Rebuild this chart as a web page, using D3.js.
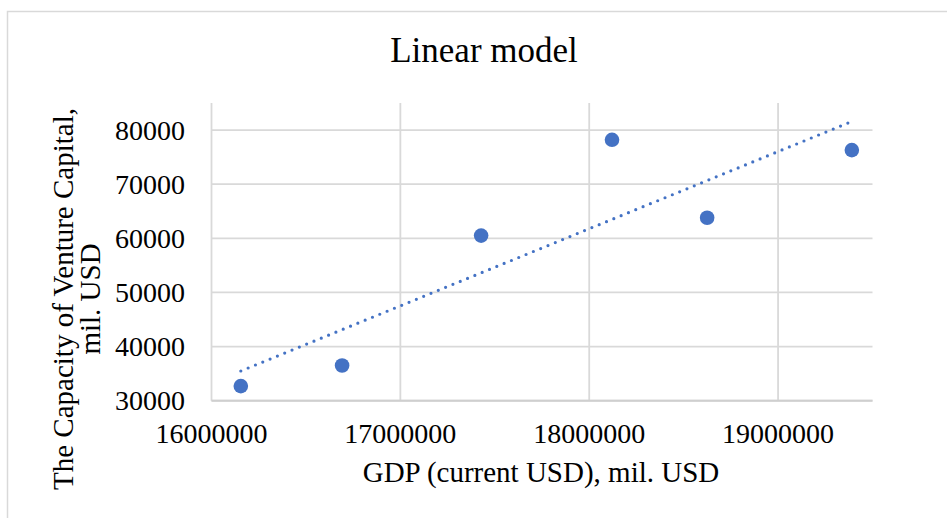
<!DOCTYPE html>
<html>
<head>
<meta charset="utf-8">
<script src="https://cdn.jsdelivr.net/npm/d3@7"></script>
<style>
  body { margin: 0; background: #fff; }
  text { font-family: "Liberation Serif", "Times New Roman", serif; fill: #000; }
</style>
</head>
<body>
<div class="scatter-chart"></div>
<script>
// US GDP vs venture capital capacity, mil. USD
var gdp = [16155255, 16691517, 17427609, 18120714, 18624475, 19390604];
var vcCapacity = [32700, 36500, 60500, 78200, 63800, 76300];
var xTicks = [16000000, 17000000, 18000000, 19000000];
var yTicks = [30000, 40000, 50000, 60000, 70000, 80000];

var w = 947;
var h = 518;
var plotLeft = 211.5, plotRight = 872.5, plotTop = 103, plotBottom = 400.7;

var svg = d3.select(".scatter-chart")
            .append("svg")
            .attr("width", w)
            .attr("height", h);

// chart border
svg.append("rect")
   .attr("x", 7.5).attr("y", 11.5)
   .attr("width", 980).attr("height", 560)
   .attr("fill", "none")
   .attr("stroke", "#d9d9d9")
   .attr("stroke-width", 1.5);

var x = d3.scaleLinear().domain([16000000, 19500000]).range([plotLeft, plotRight]);
var y = d3.scaleLinear().domain([30000, 85000]).range([plotBottom, plotTop]);

// gridlines
svg.append("g")
   .selectAll("line")
   .data(yTicks)
   .enter()
   .append("line")
   .attr("x1", plotLeft).attr("x2", plotRight)
   .attr("y1", function(d) { return y(d); })
   .attr("y2", function(d) { return y(d); })
   .attr("stroke", "#d9d9d9")
   .attr("stroke-width", 1.8);

svg.append("g")
   .selectAll("line")
   .data(xTicks)
   .enter()
   .append("line")
   .attr("y1", plotTop).attr("y2", plotBottom)
   .attr("x1", function(d) { return x(d); })
   .attr("x2", function(d) { return x(d); })
   .attr("stroke", "#d9d9d9")
   .attr("stroke-width", 1.8);

// bottom axis line
svg.append("line")
   .attr("x1", plotLeft).attr("x2", plotRight)
   .attr("y1", plotBottom).attr("y2", plotBottom)
   .attr("stroke", "#cfcfcf")
   .attr("stroke-width", 2);

// tick labels
svg.append("g")
   .selectAll("text")
   .data(xTicks)
   .enter()
   .append("text")
   .attr("x", function(d) { return x(d); })
   .attr("y", 443)
   .attr("text-anchor", "middle")
   .style("font-size", "28px")
   .text(function(d) { return d; });

svg.append("g")
   .selectAll("text")
   .data(yTicks)
   .enter()
   .append("text")
   .attr("x", 185)
   .attr("y", function(d) { return y(d) + 9.5; })
   .attr("text-anchor", "end")
   .style("font-size", "28px")
   .text(function(d) { return d; });

// linear trendline (least squares)
var mx = d3.mean(gdp), my = d3.mean(vcCapacity);
var sxy = d3.sum(gdp, function(v, i) { return (v - mx) * (vcCapacity[i] - my); });
var sxx = d3.sum(gdp, function(v) { return (v - mx) * (v - mx); });
var slope = sxy / sxx;
var intercept = my - slope * mx;
var xExt = d3.extent(gdp);

svg.append("line")
   .attr("x1", x(xExt[0])).attr("y1", y(intercept + slope * xExt[0]))
   .attr("x2", x(xExt[1])).attr("y2", y(intercept + slope * xExt[1]))
   .attr("stroke", "#4472c4")
   .attr("stroke-width", 3.2)
   .attr("stroke-linecap", "round")
   .attr("stroke-dasharray", "0 7.9");

// points
svg.append("g")
   .selectAll("circle")
   .data(gdp)
   .enter()
   .append("circle")
   .attr("cx", function(d) { return x(d); })
   .attr("cy", function(d, i) { return y(vcCapacity[i]); })
   .attr("r", 7.3)
   .attr("fill", "#4472c4");

// titles
svg.append("text")
   .attr("x", 484).attr("y", 62)
   .attr("text-anchor", "middle")
   .style("font-size", "35px")
   .text("Linear model");

svg.append("text")
   .attr("x", 541).attr("y", 482)
   .attr("text-anchor", "middle")
   .style("font-size", "29px")
   .text("GDP (current USD), mil. USD");

var yTitle = svg.append("text")
   .attr("transform", "translate(0, 299) rotate(-90)")
   .attr("text-anchor", "middle")
   .style("font-size", "29px");
yTitle.append("tspan").attr("x", 0).attr("y", 73).text("The Capacity of Venture Capital,");
yTitle.append("tspan").attr("x", 0).attr("y", 99.5).text("mil. USD");
</script>
</body>
</html>
